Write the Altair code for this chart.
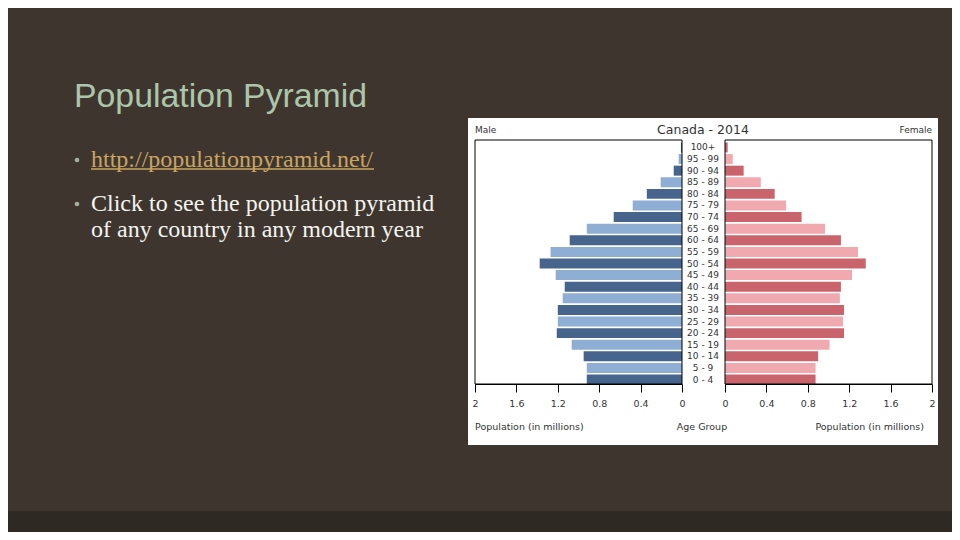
import altair as alt
import pandas as pd

# ---- data ----
ages = ["0 - 4", "5 - 9", "10 - 14", "15 - 19", "20 - 24", "25 - 29", "30 - 34",
        "35 - 39", "40 - 44", "45 - 49", "50 - 54", "55 - 59", "60 - 64", "65 - 69",
        "70 - 74", "75 - 79", "80 - 84", "85 - 89", "90 - 94", "95 - 99", "100+"]
male = [0.92, 0.92, 0.95, 1.066, 1.21, 1.20, 1.20, 1.153, 1.133, 1.22, 1.375,
        1.27, 1.085, 0.92, 0.66, 0.476, 0.34, 0.206, 0.08, 0.032, 0.01]
female = [0.875, 0.875, 0.90, 1.01, 1.15, 1.14, 1.15, 1.11, 1.12, 1.227, 1.36,
          1.285, 1.12, 0.966, 0.74, 0.59, 0.48, 0.346, 0.18, 0.075, 0.026]
x_ticks = [0, 0.4, 0.8, 1.2, 1.6, 2]

shade = ["dark" if i % 2 == 0 else "light" for i in range(len(ages))]
male_df = pd.DataFrame({"age": ages, "pop": male, "tone": ["Male " + s for s in shade]})
female_df = pd.DataFrame({"age": ages, "pop": female, "tone": ["Female " + s for s in shade]})
age_df = pd.DataFrame({"age": ages})

one = alt.Data(values=[{"k": 0}])

SANS = "DejaVu Sans"
SERIF = "Liberation Serif"
W, H = 944, 524

y_enc = alt.Y("age:N", sort=ages[::-1],
              scale=alt.Scale(range=[134, 377], paddingInner=0.14, paddingOuter=0.04),
              axis=None)
color_enc = alt.Color("tone:N",
                      scale=alt.Scale(domain=["Male dark", "Male light", "Female dark", "Female light"],
                                      range=["#46648c", "#8eaed4", "#c9646c", "#f1a9b0"]),
                      legend=None)


def x_axis():
    return alt.Axis(orient="bottom", offset=-148, values=x_ticks, format="~g", title=None,
                    grid=False, tickSize=8, tickColor="#000", domainColor="#000",
                    labelFont=SANS, labelFontSize=9.5, labelColor="#333", labelPadding=6,
                    labelFlush=False, labelOverlap=False, zindex=2)


def label(text, x, y, size, color, font=SANS, align="left", baseline="alphabetic"):
    return alt.Chart(one).mark_text(text=text, font=font, fontSize=size, color=color,
                                    align=align, baseline=baseline).encode(
        x=alt.value(x), y=alt.value(y))


def box(x, x2, y, y2, fill, stroke="transparent"):
    return alt.Chart(one).mark_rect(fill=fill, stroke=stroke, strokeWidth=1).encode(
        x=alt.value(x), x2=alt.value(x2), y=alt.value(y), y2=alt.value(y2))


# slide decorations
band = box(0, W, 503, H, "#2e2923")
white = box(460, 930, 110, 437, "#ffffff")

title = label("Population Pyramid", 66, 99, 33.8, "#adc6ab", font="Liberation Sans")
dots = alt.Chart(one).mark_circle(size=22, color="#a3ada2", opacity=1).encode(
    x=alt.value(69), y=alt.value(152))
dots2 = alt.Chart(one).mark_circle(size=22, color="#a3ada2", opacity=1).encode(
    x=alt.value(69), y=alt.value(196))
link = label("http://populationpyramid.net/", 83, 159, 24, "#c9a462", font=SERIF)
underline = alt.Chart(one).mark_rule(color="#c9a462", strokeWidth=1.5).encode(
    x=alt.value(83), x2=alt.value(366), y=alt.value(161))
line2 = label("Click to see the population pyramid", 83, 203, 24, "#f4f4f0", font=SERIF)
line3 = label("of any country in any modern year", 83, 228.5, 24, "#f4f4f0", font=SERIF)

# chart
male_bars = alt.Chart(male_df).mark_bar().encode(
    x=alt.X("pop:Q", scale=alt.Scale(domain=[0, 2], range=[674, 467]), axis=x_axis()),
    y=y_enc, color=color_enc)
female_bars = alt.Chart(female_df).mark_bar().encode(
    x=alt.X("pop:Q", scale=alt.Scale(domain=[0, 2], range=[717, 924]), axis=x_axis()),
    y=y_enc, color=color_enc)
male_frame = box(467, 674, 132, 376, "transparent", "#000")
female_frame = box(717, 924, 132, 376, "transparent", "#000")
age_labels = alt.Chart(age_df).mark_text(font=SANS, fontSize=9, color="#333",
                                         align="center", baseline="middle").encode(
    x=alt.value(695), y=y_enc, text="age:N")

t_male = label("Male", 467, 125, 9, "#333")
t_title = label("Canada - 2014", 695, 126, 12.5, "#333", align="center")
t_female = label("Female", 924, 125, 9, "#333", align="right")
b_left = label("Population (in millions)", 467, 421.5, 9.5, "#333")
b_mid = label("Age Group", 694, 421.5, 9.5, "#333", align="center")
b_right = label("Population (in millions)", 916, 421.5, 9.5, "#333", align="right")

chart = alt.layer(
    band, white, title, dots, dots2, link, underline, line2, line3,
    male_bars, female_bars, male_frame, female_frame, age_labels,
    t_male, t_title, t_female, b_left, b_mid, b_right
).resolve_scale(x="independent").properties(
    width=W, height=H, padding=0,
    autosize=alt.AutoSizeParams(type="none"),
    background="#3e362e",
).configure_view(stroke=None)

chart.save("out.html", embed_options={"renderer": "svg", "actions": False})
